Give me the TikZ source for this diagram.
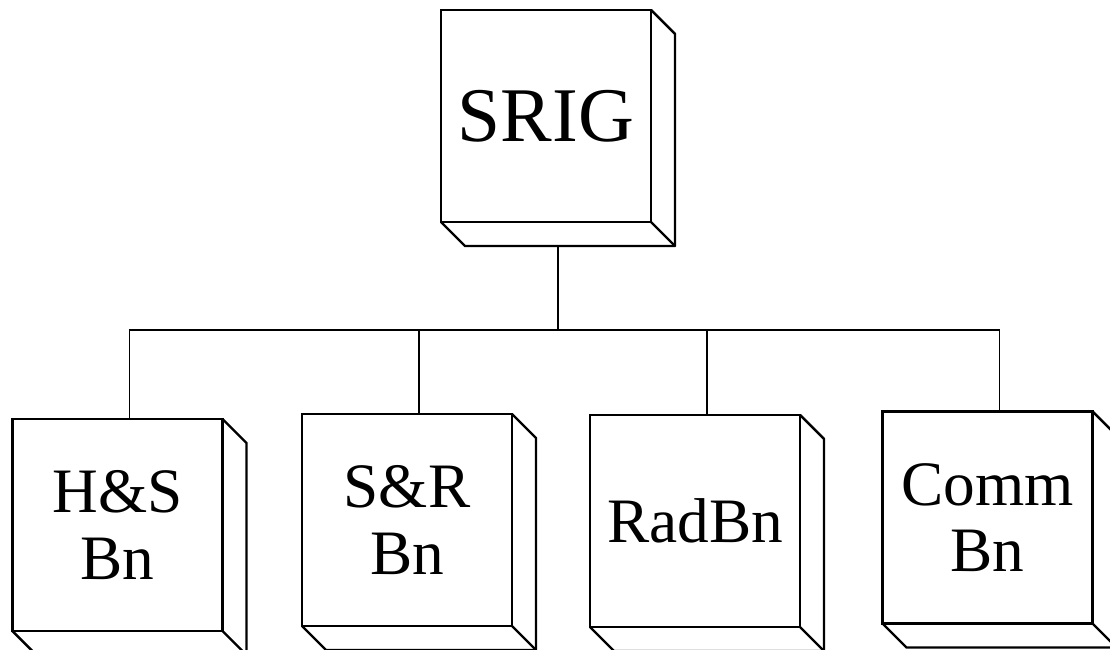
\documentclass[tikz,border=0pt]{standalone}
\usepackage{fontspec}
\setmainfont{Liberation Serif}
\usetikzlibrary{calc}

\begin{document}
\begin{tikzpicture}[x=0.025cm, y=-0.025cm]

	% Styles
	\tikzset{
		unit/.style={
			rectangle, draw=black, line width=1.7pt,
			minimum width=5.25cm, minimum height=5.3cm,
			inner sep=0pt, outer sep=0pt,
			align=center,
			font=\fontsize{45}{47}\selectfont,
		},
		face/.style={
			line width=1.7pt, line join=round,
		},
		link/.style={
			line width=1.4pt,
		}
	}

	% Page size
	\useasboundingbox (0,0) rectangle (1110,650);

	% Top unit
	\node[unit, font=\fontsize{55}{60}\selectfont] (srig) at (546,116) {SRIG};

	% Battalions in a row
	\node[unit] (hs) at (117.5,525) {H\&S\\Bn};
	\node[unit] (sr) at (407,520) {S\&R\\Bn};
	\node[unit] (rad) at (695,521) {RadBn};
	\node[unit] (comm) at (987.5,517.5) {Comm\\Bn};

	% Side and bottom faces of every box
	\foreach \n in {srig,hs,sr,rad,comm}{
		\draw[face] (\n.north east) -- ++(24,24) |- ($(\n.south west)+(24,24)$) -- (\n.south west);
		\draw[face] (\n.south east) -- ++(24,24);
	}

	% Tree lines from SRIG down to the battalions
	\draw[link] ($(srig.south)+(12,24)$) -- ++(0,84) coordinate (bus);
	\foreach \n in {hs,sr,rad,comm}
		\draw[link] (bus) -| ($(\n.north)+(12,0)$);

\end{tikzpicture}
\end{document}
